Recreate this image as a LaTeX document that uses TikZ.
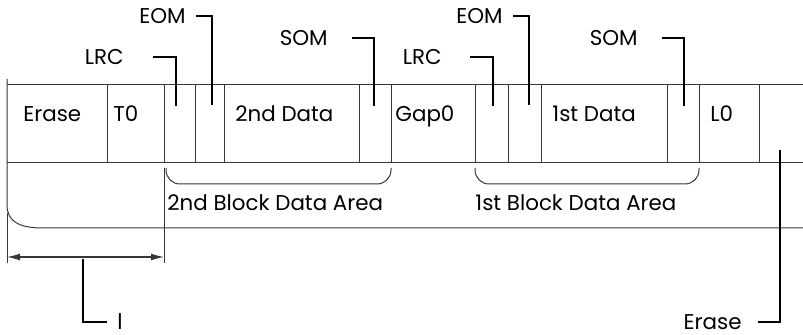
\documentclass[tikz,border=0pt]{standalone}
\usepackage{fontspec}
\setmainfont{Poppins}
\usetikzlibrary{positioning,arrows.meta}
\definecolor{tapegray}{RGB}{55,55,55}
\tikzset{
  tapeln/.style={draw=tapegray, line width=0.5pt},
  leadln/.style={draw=black, line width=1.1pt},
  dimln/.style={draw=tapegray, line width=0.6pt,
                {Latex[length=6.5pt,width=3.5pt]}-{Latex[length=6.5pt,width=3.5pt]}},
  celltxt/.style={font=\fontsize{10.7}{12}\selectfont, inner sep=0pt, anchor=base west},
  calltxt/.style={font=\fontsize{10.7}{12}\selectfont, inner sep=0pt, anchor=east},
}
\newcommand{\RTop}{85}
\newcommand{\RMid}{163}
\newcommand{\RBot}{228}
\newcommand{\TxtY}{122}
\newcommand{\AreaY}{211}

\begin{document}
\begin{tikzpicture}[x=0.5pt,y=-0.5pt]
    \useasboundingbox (0,0) rectangle (803,335);

      \draw[tapeln] (7,79) -- (7,205) .. controls (7,222) and (20,228) .. (43,228) -- (803,228);
      \draw[tapeln] (7,\RTop) -- (803,\RTop);
      \draw[tapeln] (7,\RMid) -- (803,\RMid);
      \foreach \x in {107,164,195,224,359,391,475,508,541,667,699,759}
        \draw[tapeln] (\x,\RTop) -- (\x,\RMid);

      \node[celltxt] (erase) at (23,\TxtY) {Erase};
      \node[celltxt] (tzero) at (113,\TxtY) {T0};
      \node[celltxt] (dataB) at (235,\TxtY) {2nd Data};
      \node[celltxt] (gapzero) at (395,\TxtY) {Gap0};
      \node[celltxt] (dataA) at (552,\TxtY) {1st Data};
      \node[celltxt] (lzero) at (710,\TxtY) {L0};

      \draw[tapeln, rounded corners=7pt] (166,168) |- (391,184) -- (391,168);
      \draw[tapeln, rounded corners=7pt] (475,168) |- (699,184) -- (699,168);
      \node[celltxt] (areaB) at (167,\AreaY) {2nd Block Data Area};
      \node[celltxt] (areaA) at (475,\AreaY) {1st Block Data Area};

      \node[calltxt] (lrcB) at (124,57) {LRC};
      \node[calltxt] (eomB) at (186,16) {EOM};
      \node[calltxt] (somB) at (328,38) {SOM};
      \node[calltxt] (lrcA) at (442,57) {LRC};
      \node[calltxt] (eomA) at (503,16) {EOM};
      \node[calltxt] (somA) at (638,38) {SOM};
      \coordinate (lrcBe) at (176,106);
      \coordinate (eomBe) at (212,105);
      \coordinate (somBe) at (374,106);
      \coordinate (lrcAe) at (493,106);
      \coordinate (eomAe) at (529,105);
      \coordinate (somAe) at (684,106);
      \draw[leadln] ([xshift=14.5pt]lrcB.east) -| (lrcBe);
      \draw[leadln] ([xshift=5pt]eomB.east) -| (eomBe);
      \draw[leadln] ([xshift=12pt]somB.east) -| (somBe);
      \draw[leadln] ([xshift=14pt]lrcA.east) -| (lrcAe);
      \draw[leadln] ([xshift=5pt]eomA.east) -| (eomAe);
      \draw[leadln] ([xshift=12pt]somA.east) -| (somAe);

      \draw[tapeln] (7,213) -- (7,263);
      \draw[tapeln] (164,168) -- (164,263);
      \coordinate (dimL) at (7,257);
      \coordinate (dimR) at (164,257);
      \draw[dimln] (dimL) -- (dimR);

      \node[calltxt, anchor=west] (lenlbl) at (117,322) {l};
      \coordinate (lenTop) at (83,259);
      \draw[leadln] ([xshift=-5pt]lenlbl.west) -| (lenTop);

      \node[calltxt] (eraseEnd) at (742,322) {Erase};
      \coordinate (eraseTop) at (780,150);
      \draw[leadln] ([xshift=8pt]eraseEnd.east) -| (eraseTop);

    \end{tikzpicture}
\end{document}
